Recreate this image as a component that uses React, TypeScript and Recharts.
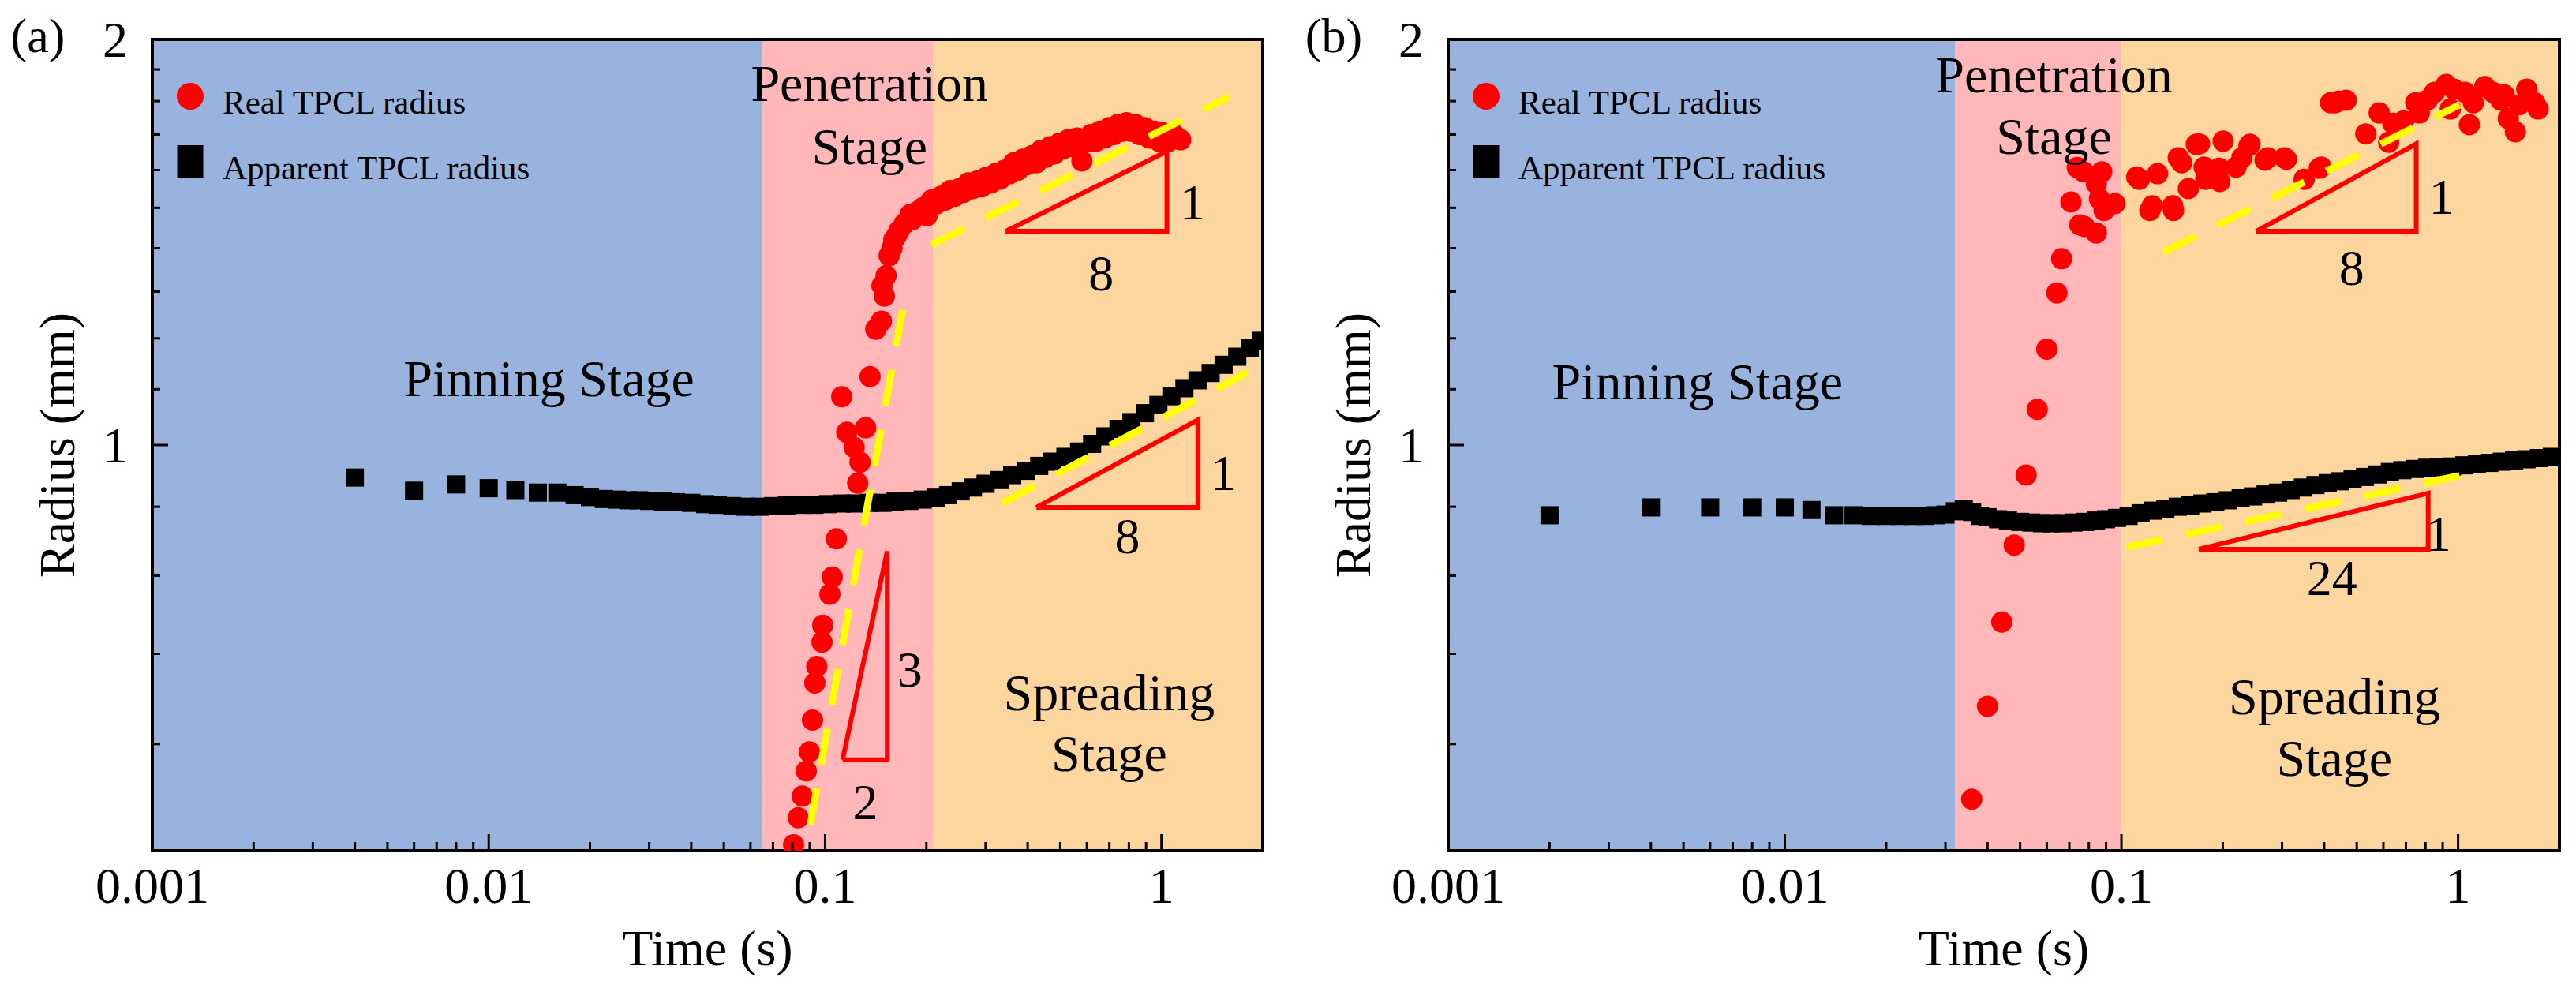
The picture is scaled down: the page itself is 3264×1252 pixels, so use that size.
import React from 'react'
import { ScatterChart, Scatter, XAxis, YAxis, ReferenceArea, Legend } from 'recharts'

const FONT = "'Times New Roman', 'Liberation Serif', serif"
const RED = '#ff0000'
const YELLOW = '#ffff00'
const BAND_COLORS = ['#98b4de', '#ffb7ba', '#fdd59e']

// axis ticks
const xMajor = [0.001, 0.01, 0.1, 1]
const xMajorLabels = ['0.001', '0.01', '0.1', '1']
const xMinor = [
  0.002, 0.003, 0.004, 0.005, 0.006, 0.007, 0.008, 0.009,
  0.02, 0.03, 0.04, 0.05, 0.06, 0.07, 0.08, 0.09,
  0.2, 0.3, 0.4, 0.5, 0.6, 0.7, 0.8, 0.9,
]
const yMajor = [1, 2]
const yMinor = [0.6, 0.7, 0.8, 0.9, 1.1, 1.2, 1.3, 1.4, 1.5, 1.6, 1.7, 1.8, 1.9]

const legendNames = ['Real TPCL radius', 'Apparent TPCL radius']

// ---------- panel (a) ----------
const stageEdgesA = [0.065, 0.21]

const realA = [
  [0.0806, 0.505], [0.0832, 0.529], [0.0855, 0.549], [0.0879, 0.573], [0.0898, 0.592],
  [0.0917, 0.625], [0.0932, 0.666], [0.0945, 0.685], [0.0979, 0.714], [0.0984, 0.735],
  [0.1033, 0.775], [0.105, 0.798], [0.108, 0.852], [0.125, 0.937], [0.127, 0.971],
  [0.122, 0.996], [0.116, 1.022], [0.132, 1.03], [0.112, 1.086], [0.136, 1.124],
  [0.1415, 1.219], [0.147, 1.236], [0.1476, 1.313], [0.150, 1.29], [0.1518, 1.336],
  [0.155, 1.382], [0.158, 1.40], [0.160, 1.42], [0.163, 1.43], [0.166, 1.443],
  [0.172, 1.46], [0.179, 1.483],
  [0.182, 1.47], [0.188, 1.49], [0.195, 1.50], [0.201, 1.48], [0.207, 1.52],
  [0.214, 1.51], [0.221, 1.53], [0.228, 1.52], [0.235, 1.545], [0.243, 1.53],
  [0.251, 1.55], [0.258, 1.54], [0.266, 1.565], [0.275, 1.55], [0.283, 1.57],
  [0.292, 1.555], [0.301, 1.58], [0.311, 1.565], [0.321, 1.59], [0.331, 1.575],
  [0.342, 1.60], [0.353, 1.59], [0.364, 1.62], [0.375, 1.60], [0.387, 1.63],
  [0.399, 1.615], [0.412, 1.64], [0.425, 1.62], [0.438, 1.655], [0.452, 1.635],
  [0.466, 1.665], [0.481, 1.645], [0.497, 1.675], [0.512, 1.66], [0.528, 1.685],
  [0.545, 1.665], [0.562, 1.69], [0.580, 1.625], [0.598, 1.68], [0.617, 1.70],
  [0.637, 1.68], [0.657, 1.71], [0.678, 1.69], [0.699, 1.72], [0.721, 1.70],
  [0.744, 1.73], [0.767, 1.71], [0.787, 1.735], [0.810, 1.71], [0.835, 1.73],
  [0.860, 1.70], [0.893, 1.72], [0.920, 1.69], [0.955, 1.71], [0.985, 1.68],
  [1.010, 1.705], [1.050, 1.68], [1.090, 1.70], [1.140, 1.685],
]

const apparentA = [
  [0.004, 0.946], [0.006, 0.925], [0.008, 0.935], [0.010, 0.929], [0.012, 0.926],
  [0.014, 0.922], [0.016, 0.922], [0.018, 0.918], [0.020, 0.915], [0.022, 0.912],
  [0.024, 0.911], [0.026, 0.910], [0.028, 0.910], [0.030, 0.909], [0.033, 0.908],
  [0.036, 0.907], [0.040, 0.906], [0.044, 0.904], [0.048, 0.903], [0.053, 0.901],
  [0.058, 0.900], [0.064, 0.900], [0.070, 0.901], [0.077, 0.902], [0.085, 0.903],
  [0.093, 0.903], [0.102, 0.904], [0.112, 0.905], [0.123, 0.905], [0.135, 0.906],
  [0.148, 0.906], [0.162, 0.908], [0.178, 0.909], [0.195, 0.911], [0.213, 0.914],
  [0.232, 0.918], [0.253, 0.924], [0.275, 0.930], [0.300, 0.936], [0.330, 0.942],
  [0.360, 0.950], [0.396, 0.957], [0.433, 0.965], [0.473, 0.972], [0.518, 0.980],
  [0.569, 0.989], [0.622, 1.002], [0.681, 1.015], [0.745, 1.028], [0.814, 1.040],
  [0.893, 1.056], [0.979, 1.071], [1.070, 1.087], [1.170, 1.102], [1.280, 1.117],
  [1.400, 1.131], [1.530, 1.147], [1.680, 1.163], [1.830, 1.180], [1.980, 1.195],
]

const fitsA = [
  [[0.0904, 0.523], [0.1706, 1.267]],
  [[0.207, 1.408], [1.585, 1.813]],
  [[0.337, 0.906], [1.80, 1.132]],
]

const trianglesA = [
  [[0.344, 1.441], [1.038, 1.441], [1.038, 1.652], [0.344, 1.441]],
  [[0.425, 0.899], [1.283, 0.899], [1.283, 1.044], [0.425, 0.899]],
  [[0.1127, 0.584], [0.153, 0.584], [0.153, 0.834], [0.1127, 0.584]],
]

const stageNotesA = [
  { x: 0.0151, y: 1.087, text: 'Pinning Stage' },
  { x: 0.1355, y: 1.8, text: 'Penetration' },
  { x: 0.1355, y: 1.616, text: 'Stage' },
  { x: 0.699, y: 0.636, text: 'Spreading' },
  { x: 0.699, y: 0.573, text: 'Stage' },
]

const slopeNotesA = [
  { x: 1.236, y: 1.471, text: '1' },
  { x: 0.662, y: 1.302, text: '8' },
  { x: 1.527, y: 0.926, text: '1' },
  { x: 0.792, y: 0.831, text: '8' },
  { x: 0.1786, y: 0.662, text: '3' },
  { x: 0.1318, y: 0.528, text: '2' },
]

// ---------- panel (b) ----------
const stageEdgesB = [0.032, 0.1]

const realB = [
  [0.0359, 0.546], [0.040, 0.640], [0.0441, 0.739], [0.048, 0.843], [0.0521, 0.950],
  [0.0562, 1.063], [0.060, 1.178], [0.0643, 1.297], [0.0664, 1.375], [0.0708, 1.515],
  [0.0739, 1.607], [0.0752, 1.457], [0.0772, 1.595], [0.0776, 1.453], [0.0842, 1.437],
  [0.0842, 1.563], [0.086, 1.523], [0.0874, 1.595], [0.0888, 1.493], [0.0957, 1.511],
  [0.111, 1.581], [0.113, 1.575], [0.1214, 1.493], [0.1234, 1.505], [0.128, 1.59],
  [0.142, 1.505], [0.1428, 1.493], [0.1475, 1.634], [0.151, 1.62], [0.158, 1.55],
  [0.1668, 1.672], [0.1705, 1.673], [0.176, 1.608], [0.178, 1.575], [0.195, 1.605],
  [0.196, 1.569], [0.2005, 1.681], [0.219, 1.608], [0.228, 1.634], [0.239, 1.667],
  [0.241, 1.672], [0.267, 1.627], [0.272, 1.634], [0.305, 1.634], [0.309, 1.63],
  [0.349, 1.575], [0.387, 1.605], [0.392, 1.608], [0.418, 1.795], [0.431, 1.795],
  [0.441, 1.80], [0.465, 1.803], [0.532, 1.702], [0.583, 1.764], [0.622, 1.678],
  [0.64, 1.733], [0.689, 1.74], [0.748, 1.795], [0.767, 1.764], [0.81, 1.803],
  [0.851, 1.827], [0.922, 1.852], [0.948, 1.776], [0.971, 1.837], [1.05, 1.827],
  [1.08, 1.729], [1.11, 1.795], [1.20, 1.845], [1.27, 1.827], [1.34, 1.803],
  [1.37, 1.82], [1.41, 1.747], [1.48, 1.708], [1.52, 1.789], [1.60, 1.837],
  [1.69, 1.795], [1.73, 1.776],
]

const apparentB = [
  [0.002, 0.887], [0.004, 0.899], [0.006, 0.899], [0.008, 0.899], [0.010, 0.899],
  [0.012, 0.895], [0.014, 0.887], [0.016, 0.887], [0.018, 0.886], [0.020, 0.886],
  [0.022, 0.886], [0.024, 0.886], [0.026, 0.886], [0.028, 0.887], [0.030, 0.888],
  [0.032, 0.893], [0.034, 0.896], [0.036, 0.892], [0.038, 0.886], [0.040, 0.884],
  [0.043, 0.881], [0.046, 0.879], [0.050, 0.877], [0.054, 0.876], [0.058, 0.875],
  [0.062, 0.875], [0.067, 0.875], [0.072, 0.876], [0.078, 0.877], [0.084, 0.879],
  [0.090, 0.881], [0.097, 0.883], [0.105, 0.886], [0.114, 0.890], [0.124, 0.894],
  [0.135, 0.897], [0.147, 0.900], [0.160, 0.902], [0.174, 0.905], [0.190, 0.907],
  [0.207, 0.910], [0.226, 0.913], [0.246, 0.916], [0.268, 0.919], [0.292, 0.922],
  [0.318, 0.926], [0.346, 0.930], [0.377, 0.934], [0.410, 0.937], [0.446, 0.940],
  [0.486, 0.943], [0.529, 0.947], [0.576, 0.951], [0.627, 0.955], [0.683, 0.958],
  [0.743, 0.960], [0.809, 0.962], [0.881, 0.963], [0.959, 0.964], [1.044, 0.966],
  [1.137, 0.968], [1.238, 0.970], [1.348, 0.972], [1.467, 0.974], [1.597, 0.976],
  [1.739, 0.978], [1.900, 0.980],
]

const fitsB = [
  [[0.133, 1.39], [1.01, 1.789]],
  [[0.1038, 0.84], [1.028, 0.95]],
]

const trianglesB = [
  [[0.2513, 1.441], [0.751, 1.441], [0.751, 1.673], [0.2513, 1.441]],
  [[0.1697, 0.837], [0.815, 0.837], [0.815, 0.921], [0.1697, 0.837]],
]

const stageNotesB = [
  { x: 0.0055, y: 1.081, text: 'Pinning Stage' },
  { x: 0.063, y: 1.826, text: 'Penetration' },
  { x: 0.063, y: 1.645, text: 'Stage' },
  { x: 0.429, y: 0.631, text: 'Spreading' },
  { x: 0.429, y: 0.568, text: 'Stage' },
]

const slopeNotesB = [
  { x: 0.893, y: 1.485, text: '1' },
  { x: 0.483, y: 1.315, text: '8' },
  { x: 0.874, y: 0.835, text: '1' },
  { x: 0.422, y: 0.774, text: '24' },
]

const pts = (a: number[][]) => a.map(([x, y]) => ({ x, y }))

const XTick = (p: any) => {
  const i = xMajor.indexOf(p.payload.value)
  const major = i >= 0
  return (
    <g>
      <line x1={p.x} x2={p.x} y1={p.y} y2={p.y - (major ? 21 : 11)} stroke="#000" strokeWidth={3} />
      {major && (
        <text x={p.x} y={p.y + 66} textAnchor="middle" fontFamily={FONT} fontSize={64} fill="#000">
          {xMajorLabels[i]}
        </text>
      )}
    </g>
  )
}

const YTick = (p: any) => {
  const v = p.payload.value
  const major = yMajor.includes(v)
  return (
    <g>
      <line x1={p.x} x2={p.x + (major ? 20 : 10)} y1={p.y} y2={p.y} stroke="#000" strokeWidth={3} />
      {major && (
        <text x={p.x - 31} y={p.y} dy="0.35em" textAnchor="end" fontFamily={FONT} fontSize={64} fill="#000">
          {v}
        </text>
      )}
    </g>
  )
}

const circleShape = (p: any) => <circle cx={p.cx} cy={p.cy} r={13.5} fill={RED} />
const squareShape = (p: any) => <rect x={p.cx - 11.5} y={p.cy - 11.5} width={23} height={23} fill="#000" />
const noShape = () => <g />
const textShape = (size: number) => (p: any) => (
  <text x={p.cx} y={p.cy} textAnchor="middle" fontFamily={FONT} fontSize={size} fill="#000">
    {p.payload.text}
  </text>
)

interface PanelProps {
  tag: string
  left: number
  margin: { top: number; right: number; bottom: number; left: number }
  edges: number[]
  real: number[][]
  apparent: number[][]
  fits: number[][][]
  triangles: number[][][]
  stageNotes: { x: number; y: number; text: string }[]
  slopeNotes: { x: number; y: number; text: string }[]
}

function Panel({ tag, left, margin, edges, real, apparent, fits, triangles, stageNotes, slopeNotes }: PanelProps) {
  const plotLeft = margin.left + 60
  const bands = [0.001, ...edges, 2]
  return (
    <div style={{ position: 'absolute', left, top: 0, width: 1632, height: 1252 }}>
      <ScatterChart width={1632} height={1252} margin={margin}>
        {BAND_COLORS.map((c, i) => (
          <ReferenceArea key={c} x1={bands[i]} x2={bands[i + 1]} y1={0.5} y2={2} fill={c} fillOpacity={1} stroke="none" />
        ))}
        <XAxis
          type="number"
          dataKey="x"
          scale="log"
          domain={[0.001, 2]}
          allowDataOverflow
          ticks={[...xMajor, ...xMinor]}
          interval={0}
          tickSize={0}
          tickMargin={0}
          axisLine={false}
          tickLine={false}
          height={30}
          tick={<XTick />}
          label={{
            content: (lp: any) => (
              <text
                x={lp.viewBox.x + lp.viewBox.width / 2}
                y={lp.viewBox.y + 145}
                textAnchor="middle"
                fontFamily={FONT}
                fontSize={64}
                fill="#000"
              >
                Time (s)
              </text>
            ),
          }}
        />
        <YAxis
          type="number"
          dataKey="y"
          scale="log"
          domain={[0.5, 2]}
          allowDataOverflow
          ticks={[...yMajor, ...yMinor]}
          interval={0}
          tickSize={0}
          tickMargin={0}
          axisLine={false}
          tickLine={false}
          width={60}
          tick={<YTick />}
          label={{
            content: (lp: any) => {
              const cx = lp.viewBox.x + lp.viewBox.width - 99
              const cy = lp.viewBox.y + lp.viewBox.height / 2
              return (
                <text
                  x={cx}
                  y={cy}
                  transform={`rotate(-90 ${cx} ${cy})`}
                  textAnchor="middle"
                  fontFamily={FONT}
                  fontSize={64}
                  fill="#000"
                >
                  Radius (mm)
                </text>
              )
            },
          }}
        />
        <Legend
          layout="horizontal"
          verticalAlign="middle"
          align="center"
          wrapperStyle={{ left: 0, top: 0, width: 900, height: 260 }}
          content={() => (
            <svg width={900} height={260} style={{ display: 'block' }}>
              <circle cx={plotLeft + 48} cy={122} r={17} fill={RED} />
              <text x={plotLeft + 89} y={144} fontFamily={FONT} fontSize={43} fill="#000">
                {legendNames[0]}
              </text>
              <rect x={plotLeft + 48 - 16.5} y={205 - 21} width={33} height={42} fill="#000" />
              <text x={plotLeft + 89} y={227} fontFamily={FONT} fontSize={43} fill="#000">
                {legendNames[1]}
              </text>
            </svg>
          )}
        />
        <Scatter name={legendNames[1]} data={pts(apparent)} shape={squareShape} isAnimationActive={false} />
        <Scatter name={legendNames[0]} data={pts(real)} shape={circleShape} isAnimationActive={false} />
        {fits.map((f, i) => (
          <Scatter
            key={`fit${i}`}
            data={pts(f)}
            fill={YELLOW}
            shape={noShape}
            line={{ stroke: YELLOW, strokeWidth: 9, strokeDasharray: '46 31' }}
            isAnimationActive={false}
          />
        ))}
        {triangles.map((t, i) => (
          <Scatter
            key={`tri${i}`}
            data={pts(t)}
            fill="none"
            shape={noShape}
            line={{ stroke: RED, strokeWidth: 6, fill: 'none', strokeLinejoin: 'miter' }}
            isAnimationActive={false}
          />
        ))}
        <Scatter data={stageNotes} shape={textShape(66)} isAnimationActive={false} />
        <Scatter data={slopeNotes} shape={textShape(64)} isAnimationActive={false} />
        <ReferenceArea x1={0.001} x2={2} y1={0.5} y2={2} fill="none" fillOpacity={0} stroke="#000" strokeWidth={4} />
      </ScatterChart>
      <div
        style={{
          position: 'absolute',
          left: plotLeft - 145 - 40,
          top: 10,
          width: 80,
          textAlign: 'center',
          fontFamily: FONT,
          fontSize: 62,
          lineHeight: '70px',
          color: '#000',
        }}
      >
        {tag}
      </div>
    </div>
  )
}

export default function App() {
  return (
    <div style={{ position: 'absolute', left: 0, top: 0, width: 3264, height: 1252, background: '#fff', overflow: 'hidden' }}>
      <Panel
        tag="(a)"
        left={0}
        margin={{ top: 50, right: 32, bottom: 144, left: 133 }}
        edges={stageEdgesA}
        real={realA}
        apparent={apparentA}
        fits={fitsA}
        triangles={trianglesA}
        stageNotes={stageNotesA}
        slopeNotes={slopeNotesA}
      />
      <Panel
        tag="(b)"
        left={1632}
        margin={{ top: 50, right: 21, bottom: 144, left: 143 }}
        edges={stageEdgesB}
        real={realB}
        apparent={apparentB}
        fits={fitsB}
        triangles={trianglesB}
        stageNotes={stageNotesB}
        slopeNotes={slopeNotesB}
      />
    </div>
  )
}
